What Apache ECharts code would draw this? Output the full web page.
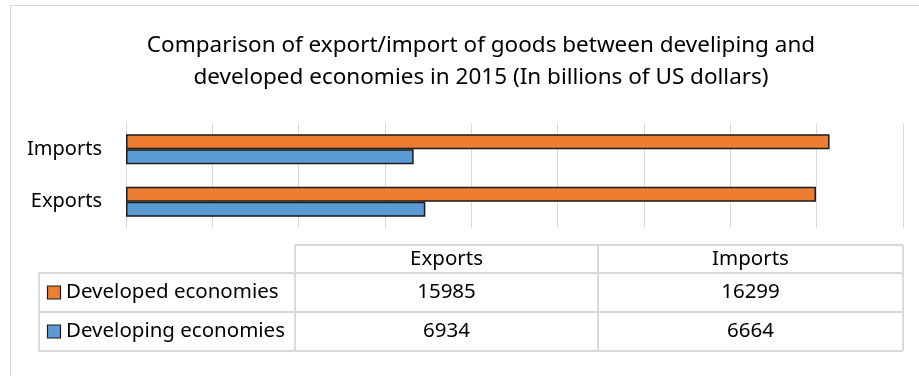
<!DOCTYPE html>
<html>
<head>
<meta charset="utf-8">
<script src="https://cdn.jsdelivr.net/npm/echarts@6/dist/echarts.min.js"></script>
<style>
html,body{margin:0;padding:0;background:#fff;}
#chart{width:919px;height:376px;}
</style>
</head>
<body>
<div id="chart"></div>
<script>
const titleLines = ['Comparison of export/import of goods between develiping and', 'developed economies in 2015 (In billions of US dollars)'];
const categories = ['Exports', 'Imports'];
const seriesNames = ['Developed economies', 'Developing economies'];
const developed = [15985, 16299];
const developing = [6934, 6664];
const colors = ['#ED7D31', '#5B9BD5'];

const FONT = 'Noto Sans';
const chart = echarts.init(document.getElementById('chart'), null, {renderer: 'canvas'});

// table geometry
const colX = [39, 295, 598, 903];
const rowY = [245, 273, 312, 351];
const gridColor = '#d9d9d9';
const g = [];
g.push({type: 'rect', shape: {x: 10.5, y: 5.5, width: 1000, height: 500}, style: {fill: 'none', stroke: gridColor, lineWidth: 1}, silent: true});
function hline(x1, x2, y) { g.push({type: 'line', shape: {x1, y1: y, x2, y2: y}, style: {stroke: gridColor, lineWidth: 2}}); }
function vline(x, y1, y2) { g.push({type: 'line', shape: {x1: x, y1, x2: x, y2}, style: {stroke: gridColor, lineWidth: 2}}); }
hline(colX[1], colX[3], rowY[0]);
hline(colX[0], colX[3], rowY[1]);
hline(colX[0], colX[3], rowY[2]);
hline(colX[0], colX[3], rowY[3]);
vline(colX[0], rowY[1], rowY[3]);
vline(colX[1], rowY[0], rowY[3]);
vline(colX[2], rowY[0], rowY[3]);
vline(colX[3], rowY[0], rowY[3]);
function txt(t, x, y, align) {
  g.push({type: 'text', x, y, style: {text: t, fontFamily: FONT, fontSize: 20.5, fill: '#000', align: align || 'center', verticalAlign: 'middle'}});
}
categories.forEach((c, i) => txt(c, (colX[i + 1] + colX[i + 2]) / 2, (rowY[0] + rowY[1]) / 2));
const tableData = [developed, developing];
seriesNames.forEach((n, r) => {
  const cy = (rowY[r + 1] + rowY[r + 2]) / 2;
  g.push({type: 'rect', shape: {x: 47.5, y: cy - 6.5, width: 13, height: 13}, style: {fill: colors[r], stroke: '#1a1a1a', lineWidth: 1.2}});
  txt(n, 66, cy, 'left');
  tableData[r].forEach((v, i) => txt(String(v), (colX[i + 1] + colX[i + 2]) / 2, cy));
});

chart.setOption({
  animation: false,
  backgroundColor: '#fff',
  title: {
    text: titleLines.join('\n'),
    left: 476, top: 25, textAlign: 'center',
    textStyle: {fontFamily: FONT, fontSize: 22.5, fontWeight: 'normal', color: '#000', lineHeight: 32}
  },
  grid: {left: 126, right: 16, top: 123, height: 105, containLabel: false},
  xAxis: {
    type: 'value', min: 0, max: 18000, interval: 2000,
    axisLabel: {show: false}, axisLine: {show: false}, axisTick: {show: false},
    splitLine: {show: true, lineStyle: {color: gridColor, width: 1}}
  },
  yAxis: {
    type: 'category', data: categories,
    axisLine: {show: true, lineStyle: {color: gridColor, width: 1}},
    axisTick: {show: false},
    axisLabel: {fontFamily: FONT, fontSize: 20, color: '#000', margin: 24}
  },
  series: [
    {name: seriesNames[0], type: 'bar', data: developed, barWidth: 15, barGap: '0%',
     itemStyle: {color: colors[0], borderColor: '#1a1a1a', borderWidth: 1.5}},
    {name: seriesNames[1], type: 'bar', data: developing, barWidth: 15, barGap: '0%',
     itemStyle: {color: colors[1], borderColor: '#1a1a1a', borderWidth: 1.5}}
  ],
  graphic: g
});
</script>
</body>
</html>
